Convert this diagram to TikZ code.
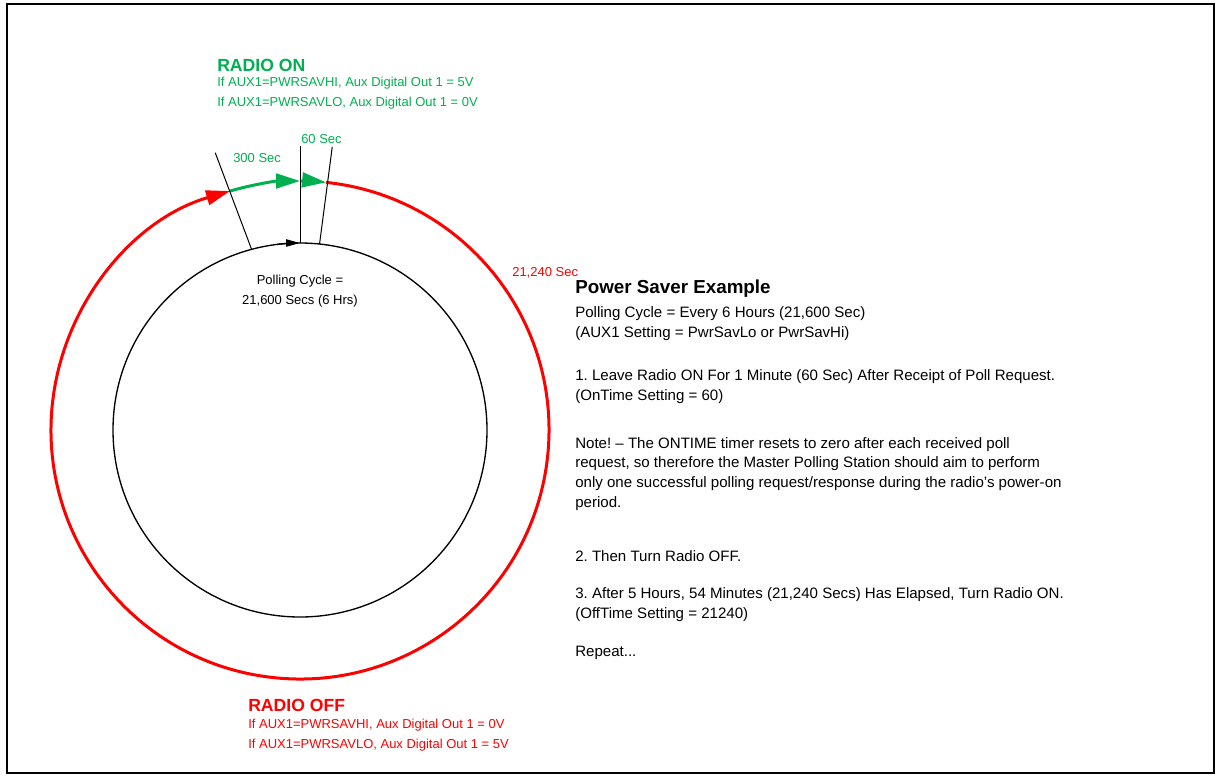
\documentclass[tikz,border=0pt]{standalone}
\usepackage{fontspec}
\setmainfont{Liberation Sans}
\frenchspacing
\definecolor{RadioGreen}{RGB}{0, 176, 80}
\definecolor{RadioRed}{RGB}{255, 0, 0}
\usetikzlibrary{arrows.meta}

\begin{document}
\begin{tikzpicture}[x=0.75pt, y=0.75pt,
        ontext/.style={font=\fontsize{9.75}{15}\selectfont, text=RadioGreen, inner sep=0pt, anchor=west, align=left},
        offtext/.style={ontext, text=RadioRed},
        ontitle/.style={font=\fontsize{13.2}{16}\selectfont\bfseries, text=RadioGreen, inner sep=0pt, anchor=west},
        offtitle/.style={ontitle, text=RadioRed},
        cycletext/.style={font=\fontsize{9.75}{15}\selectfont, inner sep=0pt, align=center},
        bodytitle/.style={font=\fontsize{14.1}{17}\selectfont\bfseries, inner sep=0pt, anchor=west},
        bodytext/.style={font=\fontsize{11.3}{14.9}\selectfont, inner sep=0pt, anchor=west, align=left},
        tick/.style={black, line width=0.75pt},
        onarc/.style={RadioGreen, line width=2.25pt, -{Triangle[length=18pt, width=11pt]}},
        offarc/.style={RadioRed, line width=2.25pt, -{Triangle[length=18pt, width=11pt]}}
    ]
        \useasboundingbox (0,0) rectangle (1217,-776);
        % Page frame
        \draw[line width=1.5pt] (7,-4) rectangle (1214,-773);
        % Polling cycle wheel
        \begin{scope}[shift={(300,-430)}]
            \draw[line width=1pt] (0,0) circle[radius=187];
            \draw[offarc] (84:249) arc[start angle=84, end angle=-253.7, radius=249];
            \draw[onarc] (106.3:249) arc[start angle=106.3, end angle=90, radius=249];
            \draw[onarc] (90:249) arc[start angle=90, end angle=84, radius=249];
            \draw[line width=1pt, -{Triangle[length=10.5pt, width=5.5pt]}] (97:187) arc[start angle=97, end angle=90, radius=187];
            % Radial markers
            \foreach \ai/\ao/\ro in {105/107/290, 90/90/284, 84/83.5/285} {
                \draw[tick] (\ai:187) -- (\ao:\ro);
            }
            \node[cycletext] (cycle) at (0,139) {Polling Cycle =\\21,600 Secs (6 Hrs)};
        \end{scope}
        % Radio on / off labels
        \node[ontitle] (radioon) at (217,-65) {RADIO ON};
        \node[ontext] (radioonnote) at (217,-93) {If AUX1=PWRSAVHI, Aux Digital Out 1 = 5V\\If AUX1=PWRSAVLO, Aux Digital Out 1 = 0V};
        \node[ontext] (onsecs) at (301,-139) {60 Sec};
        \node[ontext] (pollsecs) at (233,-158) {300 Sec};
        \node[offtext] (offsecs) at (512,-273) {21,240 Sec};
        \node[offtitle] (radiooff) at (248,-705) {RADIO OFF};
        \node[offtext] (radiooffnote) at (248,-735) {If AUX1=PWRSAVHI, Aux Digital Out 1 = 0V\\If AUX1=PWRSAVLO, Aux Digital Out 1 = 5V};
        % Description
        \node[bodytitle] (example) at (575,-289) {Power Saver Example};
        \node[bodytext] (cyclenote) at (575,-324) {Polling Cycle = Every 6 Hours (21,600 Sec)\\(AUX1 Setting = PwrSavLo or PwrSavHi)};
        \node[bodytext] (stepone) at (575,-387) {1. Leave Radio ON For 1 Minute (60 Sec) After Receipt of Poll Request.\\(OnTime Setting = 60)};
        \node[bodytext] (ontimenote) at (575,-474) {Note! -- The ONTIME timer resets to zero after each received poll\\request, so therefore the Master Polling Station should aim to perform\\only one successful polling request/response during the radio’s power-on\\period.};
        \node[bodytext] (steptwo) at (575,-556) {2. Then Turn Radio OFF.};
        \node[bodytext] (stepthree) at (575,-605) {3. After 5 Hours, 54 Minutes (21,240 Secs) Has Elapsed, Turn Radio ON.\\(OffTime Setting = 21240)};
        \node[bodytext] (repeat) at (575,-653) {Repeat...};
    \end{tikzpicture}
\end{document}
